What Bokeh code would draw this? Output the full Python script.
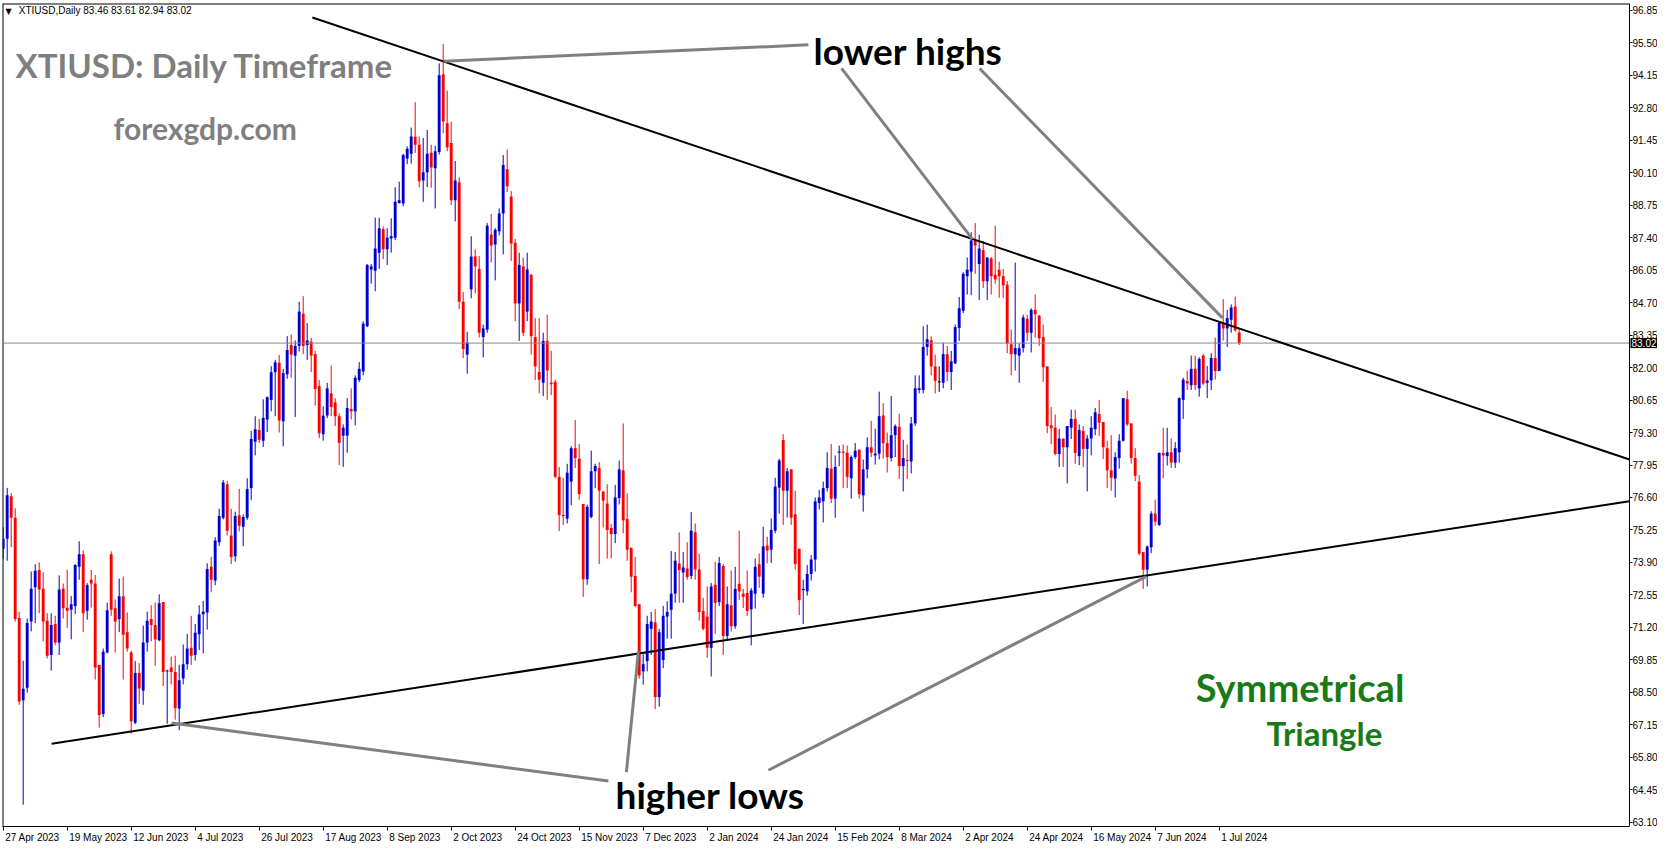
from bokeh.plotting import figure
from bokeh.models import ColumnDataSource, FixedTicker, Range1d, Label, NumeralTickFormatter
from bokeh.embed import file_html
from bokeh.resources import INLINE

# ---------------- data ----------------
opens = [
    74.47, 74.88, 76.65, 75.76, 71.59, 68.17, 68.69, 71.44, 72.87, 73.59,
    72.81, 71.47, 70.05, 71.34, 70.57, 72.81, 72.02, 71.93, 72.09, 73.72,
    74.24, 71.89, 73.18, 73.02, 69.64, 67.6, 70.16, 74.24, 71.99, 71.55,
    72.49, 71.0, 70.16, 67.23, 69.3, 68.58, 70.57, 71.55, 71.3, 70.66,
    72.25, 69.37, 69.53, 69.34, 67.83, 69.07, 69.67, 70.35, 70.05, 70.91,
    71.75, 71.82, 73.72, 73.15, 74.74, 75.76, 77.15, 75.02, 74.16, 75.86,
    75.38, 75.76, 76.99, 78.92, 79.41, 78.96, 79.84, 80.66, 81.81, 82.2,
    79.77, 81.72, 82.94, 82.5, 82.9, 84.24, 82.94, 83.08, 82.56, 81.23,
    79.23, 80.01, 80.93, 80.55, 79.98, 79.17, 79.17, 80.28, 80.18, 81.48,
    81.84, 83.72, 86.08, 86.03, 86.78, 87.76, 86.92, 87.37, 87.4, 88.85,
    88.82, 90.7, 90.89, 91.6, 91.27, 89.78, 90.12, 90.93, 90.29, 90.97,
    94.2, 92.16, 91.34, 88.96, 89.71, 84.74, 82.54, 85.26, 86.62, 86.1,
    83.27, 83.58, 87.53, 87.12, 87.67, 88.41, 90.25, 89.12, 87.19, 84.67,
    86.21, 84.33, 85.86, 83.27, 81.82, 81.37, 83.11, 81.37, 81.41, 77.46,
    75.87, 75.72, 77.26, 78.65, 78.21, 76.33, 73.2, 75.79, 77.69, 77.83,
    76.85, 76.35, 75.33, 75.08, 76.58, 77.73, 75.7, 74.51, 73.34, 72.16,
    69.37, 69.8, 71.14, 71.41, 68.3, 69.84, 71.65, 71.93, 72.6, 73.86,
    73.48, 73.65, 73.34, 75.15, 73.61, 71.88, 71.65, 70.35, 72.97, 72.25,
    73.75, 70.84, 72.12, 71.25, 73.01, 72.6, 72.63, 71.95, 72.6, 73.83,
    72.6, 74.6, 74.43, 75.22, 77.01, 78.99, 76.88, 77.77, 75.9, 74.47,
    72.75, 72.7, 73.42, 74.02, 76.37, 76.44, 76.99, 77.8, 76.55, 78.46,
    78.51, 78.46, 77.4, 78.28, 78.59, 76.69, 77.77, 78.69, 78.35, 78.42,
    80.01, 78.86, 78.24, 79.19, 79.54, 77.91, 78.16, 78.1, 79.68, 81.07,
    81.07, 82.86, 83.14, 82.05, 81.41, 81.37, 82.56, 81.82, 82.18, 83.65,
    84.36, 85.8, 85.99, 87.29, 86.31, 86.89, 85.59, 86.54, 85.86, 86.07,
    85.8, 85.45, 82.97, 82.56, 82.5, 82.81, 84.03, 83.45, 84.4, 84.16,
    83.27, 82.05, 79.6, 79.5, 78.41, 79.05, 78.69, 79.5, 79.87, 78.32,
    79.37, 78.62, 79.05, 79.44, 80.07, 79.74, 78.65, 77.73, 77.39, 78.24,
    78.96, 80.69, 79.68, 78.24, 77.26, 74.33, 73.6, 74.53, 75.93, 75.46,
    78.45, 78.32, 78.48, 78.05, 78.48, 80.66, 81.44, 81.27, 81.95, 81.14,
    82.5, 81.37, 81.47, 82.4, 81.86, 83.86, 83.63, 83.99, 84.54, 83.46,
]
highs = [
    75.36, 77.0, 76.78, 76.15, 71.85, 69.82, 71.57, 73.52, 73.82, 73.9,
    73.49, 71.79, 71.79, 71.68, 73.36, 73.02, 73.59, 72.5, 73.83, 74.78,
    74.4, 73.04, 73.59, 73.38, 69.64, 70.32, 72.23, 74.36, 72.36, 73.23,
    73.31, 71.82, 70.23, 69.8, 69.71, 71.27, 71.85, 72.12, 72.23, 72.57,
    72.25, 69.44, 69.98, 70.02, 69.64, 70.49, 70.93, 71.68, 71.34, 72.12,
    72.3, 73.86, 74.13, 74.95, 76.13, 77.33, 77.29, 76.13, 76.01, 76.96,
    75.9, 77.4, 79.37, 79.98, 79.87, 80.68, 80.8, 82.06, 82.32, 82.53,
    81.95, 83.31, 83.38, 83.13, 84.74, 84.97, 83.85, 83.24, 82.7, 81.48,
    80.39, 81.37, 82.09, 80.73, 80.1, 79.64, 80.73, 81.14, 81.68, 82.23,
    83.93, 86.31, 86.31, 88.24, 88.24, 87.87, 87.8, 88.21, 89.5, 89.73,
    90.89, 91.2, 91.98, 93.04, 91.61, 91.55, 91.88, 91.27, 91.23, 94.65,
    95.46, 93.52, 92.23, 90.59, 89.91, 85.15, 83.49, 87.46, 86.92, 86.64,
    83.79, 88.01, 88.39, 87.8, 88.62, 90.84, 91.07, 89.34, 87.35, 86.78,
    86.58, 86.78, 85.9, 84.06, 84.06, 83.45, 84.2, 82.7, 81.5, 77.87,
    77.42, 78.0, 78.73, 79.82, 78.82, 76.33, 76.3, 78.55, 78.0, 78.07,
    76.85, 77.15, 75.5, 77.12, 78.14, 79.68, 76.78, 74.51, 74.13, 72.16,
    70.08, 71.68, 71.84, 71.95, 71.14, 72.09, 72.29, 74.37, 74.33, 75.15,
    74.33, 74.74, 75.99, 75.52, 74.27, 72.43, 72.9, 73.04, 73.92, 74.13,
    73.83, 72.9, 73.56, 73.72, 75.22, 72.8, 73.56, 72.84, 74.06, 74.27,
    75.38, 74.97, 75.73, 77.42, 78.21, 79.23, 77.83, 77.77, 76.88, 74.47,
    73.18, 73.79, 74.2, 76.6, 76.92, 77.26, 78.48, 78.82, 78.35, 78.76,
    78.8, 78.76, 78.35, 78.86, 78.59, 78.18, 79.1, 79.78, 79.46, 81.0,
    80.52, 79.3, 80.82, 79.64, 80.09, 79.0, 78.8, 79.95, 81.68, 81.68,
    83.72, 83.79, 83.3, 82.54, 82.05, 83.04, 82.9, 82.7, 83.79, 84.94,
    85.97, 86.58, 87.63, 88.01, 87.53, 87.26, 86.58, 86.6, 87.9, 86.4,
    86.1, 85.6, 83.58, 86.37, 83.0, 84.2, 84.2, 84.47, 85.04, 84.2,
    83.79, 82.05, 80.36, 80.05, 79.46, 79.05, 79.57, 80.25, 80.25, 79.64,
    79.57, 79.2, 79.98, 80.32, 80.66, 79.74, 78.96, 79.19, 78.48, 79.23,
    80.73, 81.04, 79.68, 78.65, 77.53, 74.33, 74.6, 76.03, 76.51, 78.48,
    79.5, 79.5, 79.05, 78.9, 80.77, 81.58, 81.88, 82.5, 82.5, 82.43,
    82.57, 82.07, 82.6, 83.25, 83.92, 84.85, 84.4, 84.63, 84.95, 83.61,
]
lows = [
    74.06, 73.97, 74.54, 71.44, 67.98, 63.83, 68.49, 71.03, 71.38, 71.79,
    70.62, 69.91, 69.4, 70.46, 70.05, 71.57, 71.18, 70.7, 71.75, 73.18,
    71.0, 71.52, 72.02, 69.03, 67.03, 67.47, 70.12, 71.68, 70.15, 71.0,
    69.03, 70.19, 66.78, 67.17, 68.01, 67.98, 70.19, 70.62, 69.6, 70.62,
    68.76, 67.19, 68.83, 67.36, 66.92, 68.83, 69.44, 69.64, 69.82, 70.26,
    70.12, 71.11, 72.66, 72.95, 74.58, 75.69, 75.02, 73.83, 73.93, 75.19,
    74.57, 75.67, 76.49, 78.35, 78.87, 78.7, 79.32, 80.18, 79.98, 79.3,
    78.73, 81.54, 81.58, 79.95, 82.67, 82.56, 82.32, 81.82, 80.42, 79.07,
    78.96, 79.9, 79.98, 79.57, 77.94, 77.87, 78.46, 79.84, 79.6, 81.4,
    81.68, 83.68, 85.49, 85.18, 86.1, 86.51, 86.27, 86.78, 87.3, 88.82,
    88.71, 90.46, 90.48, 90.93, 89.5, 88.89, 89.5, 89.48, 88.62, 90.86,
    91.75, 91.0, 88.76, 88.08, 84.44, 82.4, 81.75, 84.88, 85.08, 83.25,
    82.43, 83.45, 86.37, 85.63, 87.5, 86.71, 89.3, 86.44, 83.93, 83.11,
    83.31, 83.93, 82.54, 81.48, 80.93, 80.82, 80.66, 80.86, 77.4, 75.2,
    75.46, 75.52, 76.28, 77.83, 76.51, 72.47, 72.97, 75.73, 76.99, 73.83,
    75.35, 74.06, 74.06, 74.7, 76.31, 75.11, 73.97, 72.66, 72.05, 69.07,
    68.82, 69.37, 70.05, 67.8, 67.9, 69.5, 70.73, 70.73, 72.22, 72.22,
    72.22, 73.18, 73.2, 73.18, 71.48, 71.07, 69.94, 69.16, 70.93, 72.09,
    70.05, 70.66, 71.03, 71.14, 72.33, 72.0, 71.68, 70.45, 71.98, 72.84,
    72.43, 73.86, 73.88, 75.11, 75.93, 75.46, 75.76, 75.46, 73.61, 71.71,
    71.34, 72.52, 73.15, 73.52, 76.1, 75.56, 76.85, 76.37, 75.76, 77.9,
    76.99, 76.99, 76.55, 78.2, 76.55, 76.01, 77.39, 78.28, 77.97, 78.18,
    78.21, 77.64, 78.1, 78.28, 77.37, 76.85, 77.37, 77.6, 79.57, 80.93,
    80.93, 82.5, 81.68, 80.93, 80.99, 81.14, 81.43, 81.07, 82.15, 83.11,
    84.27, 85.04, 85.01, 85.9, 84.81, 85.31, 84.81, 85.04, 85.49, 84.9,
    84.9, 82.6, 81.68, 81.88, 81.37, 82.63, 83.1, 82.63, 83.25, 82.9,
    81.41, 79.27, 78.82, 78.35, 77.87, 77.87, 77.19, 79.03, 78.0, 77.94,
    77.87, 76.85, 78.35, 79.19, 79.16, 78.2, 77.0, 76.88, 76.6, 77.8,
    78.92, 79.57, 78.01, 77.28, 74.2, 72.8, 72.9, 74.29, 75.42, 75.42,
    77.4, 77.93, 77.83, 77.83, 78.05, 79.87, 81.07, 81.07, 81.07, 80.79,
    81.27, 80.73, 81.07, 81.5, 81.86, 83.13, 82.86, 83.45, 83.49, 82.94,
]
closes = [
    74.88, 76.69, 75.76, 71.55, 68.12, 68.65, 71.38, 72.81, 73.55, 72.77,
    71.44, 70.02, 71.3, 70.57, 72.77, 71.99, 71.89, 72.16, 73.79, 74.24,
    71.79, 72.95, 73.02, 69.53, 67.56, 70.19, 71.91, 71.93, 71.44, 72.49,
    70.89, 70.32, 67.3, 69.3, 68.66, 70.57, 71.48, 71.3, 70.7, 72.2,
    69.34, 69.4, 69.34, 67.84, 69.0, 69.67, 70.32, 70.02, 70.98, 71.75,
    71.85, 73.63, 73.18, 74.81, 75.83, 77.22, 75.22, 74.13, 75.83, 75.43,
    75.79, 76.95, 79.03, 79.44, 79.0, 79.91, 80.77, 81.81, 82.22, 79.8,
    81.77, 82.73, 82.54, 82.9, 84.33, 82.9, 83.13, 82.5, 81.11, 79.27,
    80.0, 81.14, 80.36, 79.98, 78.87, 79.5, 80.32, 80.18, 81.58, 81.95,
    83.83, 86.27, 86.21, 86.95, 87.8, 86.92, 87.4, 87.46, 88.9, 88.96,
    90.84, 91.1, 91.61, 91.27, 89.75, 90.12, 90.89, 90.32, 91.0, 94.16,
    92.23, 91.16, 88.96, 89.78, 84.74, 82.77, 83.04, 86.62, 86.21, 83.45,
    83.63, 87.9, 87.08, 87.73, 88.41, 90.43, 89.54, 87.16, 84.67, 86.27,
    83.45, 86.08, 83.31, 82.05, 81.5, 83.11, 81.88, 81.31, 77.46, 75.87,
    75.83, 77.63, 78.65, 78.24, 76.74, 73.2, 76.21, 77.69, 77.91, 76.88,
    76.47, 75.25, 75.08, 76.6, 77.77, 75.65, 74.43, 73.31, 72.09, 69.2,
    69.67, 71.34, 71.44, 68.3, 71.0, 71.68, 71.84, 72.6, 73.97, 73.58,
    73.69, 73.29, 75.22, 73.61, 71.84, 71.14, 70.35, 72.9, 72.22, 73.88,
    70.84, 72.16, 71.25, 72.8, 72.7, 72.47, 71.88, 72.74, 73.72, 73.31,
    74.57, 74.4, 75.25, 77.05, 78.14, 76.88, 77.69, 75.76, 73.83, 72.33,
    72.8, 73.42, 74.02, 76.44, 76.6, 76.99, 77.83, 76.55, 77.87, 78.51,
    78.46, 77.46, 78.28, 78.55, 76.74, 77.77, 78.69, 78.46, 78.42, 79.98,
    78.86, 78.28, 79.19, 79.57, 77.91, 78.24, 78.12, 79.68, 81.14, 81.14,
    82.86, 83.18, 82.05, 81.45, 81.41, 82.56, 81.82, 82.26, 83.68, 84.47,
    85.9, 86.07, 87.29, 87.08, 86.95, 85.59, 86.58, 85.8, 85.67, 85.8,
    85.42, 83.0, 82.56, 82.81, 82.8, 84.09, 83.45, 84.4, 84.22, 83.22,
    82.02, 79.57, 79.48, 78.41, 79.05, 78.69, 79.57, 79.87, 78.45, 79.41,
    78.62, 79.05, 79.5, 80.14, 79.71, 78.69, 77.73, 77.42, 78.28, 78.96,
    80.73, 79.64, 78.24, 77.5, 74.27, 73.6, 74.56, 75.93, 75.6, 78.45,
    78.35, 78.48, 78.05, 78.65, 80.73, 81.5, 81.34, 81.95, 81.27, 82.36,
    81.34, 81.47, 82.4, 81.86, 83.86, 83.63, 84.06, 84.5, 83.55, 83.02,
]

date_labels = ["27 Apr 2023", "19 May 2023", "12 Jun 2023", "4 Jul 2023", "26 Jul 2023",
               "17 Aug 2023", "8 Sep 2023", "2 Oct 2023", "24 Oct 2023", "15 Nov 2023",
               "7 Dec 2023", "2 Jan 2024", "24 Jan 2024", "15 Feb 2024", "8 Mar 2024",
               "2 Apr 2024", "24 Apr 2024", "16 May 2024", "7 Jun 2024", "1 Jul 2024"]
bars_per_label = 16

price_labels = ["96.85", "95.50", "94.15", "92.80", "91.45", "90.10", "88.75", "87.40",
                "86.05", "84.70", "83.35", "82.00", "80.65", "79.30", "77.95", "76.60",
                "75.25", "73.90", "72.55", "71.20", "69.85", "68.50", "67.15", "65.80",
                "64.45", "63.10"]

last_price = 83.02
header_text = "XTIUSD,Daily  83.46 83.61 82.94 83.02"

# trend lines (bar index, price)
upper_trend_x = [77.3, 407.6]
upper_trend_y = [96.56, 78.12]
lower_trend_x = [12.1, 407.6]
lower_trend_y = [66.36, 76.47]

# gray pointer lines (bar index / price)
pointer_x0 = [110.1, 209.6, 244.1, 42.1, 158.8, 285.6]
pointer_y0 = [94.74, 94.44, 94.44, 67.22, 70.20, 73.30]
pointer_x1 = [201.3, 242.3, 304.8, 151.3, 155.8, 191.3]
pointer_y1 = [95.42, 87.34, 84.07, 64.81, 65.18, 65.26]

# ---------------- layout ----------------
W, H = 1657, 845
BORDER_L, BORDER_T, BORDER_B = 2, 3, 16
PX_PER_BAR = 4.0
X0 = -0.175
X1 = X0 + (W - BORDER_L) / PX_PER_BAR
AXIS_X = X0 + (1629 - BORDER_L) / PX_PER_BAR      # price axis sits inside the canvas, MT4 style
Y0, Y1 = 62.92, 97.14

BULL, BEAR, DOJI = "#0000cd", "#ff0000", "#000000"
n = len(opens)
xs = list(range(n))
colors, tops, bottoms = [], [], []
for o, c in zip(opens, closes):
    colors.append(BULL if c > o else (BEAR if c < o else DOJI))
    t, b = max(o, c), min(o, c)
    if t - b < 0.045:
        m = (t + b) / 2
        t, b = m + 0.0225, m - 0.0225
    tops.append(t)
    bottoms.append(b)

src = ColumnDataSource(dict(x=xs, open=opens, high=highs, low=lows, close=closes,
                            top=tops, bottom=bottoms, color=colors))

p = figure(width=W, height=H, x_range=Range1d(X0, X1), y_range=Range1d(Y0, Y1),
           y_axis_location="right", output_backend="svg", toolbar_location=None,
           min_border_left=BORDER_L, min_border_top=BORDER_T,
           min_border_right=0, min_border_bottom=BORDER_B)
p.background_fill_color = "white"
p.border_fill_color = "white"
p.outline_line_color = None
p.xgrid.visible = False
p.ygrid.visible = False

# right price axis, fixed at the end of the chart area
yax = p.yaxis[0]
yax.fixed_location = AXIS_X
yax.ticker = FixedTicker(ticks=[float(s) for s in price_labels])
yax.formatter = NumeralTickFormatter(format="0.00")
yax.axis_line_color = "black"
yax.major_tick_line_color = "black"
yax.major_tick_out = 3
yax.major_tick_in = 0
yax.minor_tick_line_color = None
yax.major_label_text_font = "Liberation Sans"
yax.major_label_text_font_size = "10px"
yax.major_label_text_color = "black"
yax.major_label_standoff = 0

# bottom date axis: tick marks at the bars (minor ticks), labels starting right of them
CHAR_EM = {" ": 0.278, "A": 0.667, "p": 0.556, "r": 0.333, "M": 0.833, "a": 0.556,
           "y": 0.5, "J": 0.5, "u": 0.556, "n": 0.556, "l": 0.222, "g": 0.556,
           "S": 0.667, "e": 0.556, "O": 0.778, "c": 0.5, "t": 0.278, "N": 0.722,
           "o": 0.556, "v": 0.5, "D": 0.722, "F": 0.611, "b": 0.556}
def text_width(s, size):
    return sum(CHAR_EM.get(ch, 0.556) for ch in s) * size
tick_pos = [k * bars_per_label for k in range(len(date_labels))]
label_pos, label_over = [], {}
for t, lab in zip(tick_pos, date_labels):
    c = round(t + (2 + text_width(lab, 10) / 2) / PX_PER_BAR, 3)
    label_pos.append(c)
    label_over[c] = lab
xax = p.xaxis[0]
xax.ticker = FixedTicker(ticks=label_pos, minor_ticks=tick_pos)
xax.major_label_overrides = label_over
xax.bounds = (X0, AXIS_X)
xax.axis_line_color = "black"
xax.major_tick_line_color = None
xax.minor_tick_line_color = "black"
xax.minor_tick_out = 4
xax.minor_tick_in = 0
xax.major_tick_out = 0
xax.major_tick_in = 0
xax.major_label_standoff = 1
xax.major_label_text_font = "Liberation Sans"
xax.major_label_text_font_size = "10px"
xax.major_label_text_color = "black"

# chart border (left and top)
p.line([X0, X0], [Y0, Y1], line_color="black", line_width=2)
p.line([X0, AXIS_X], [Y1, Y1], line_color="black", line_width=2)

# candles
p.segment(x0="x", y0="low", x1="x", y1="high", line_color="color", line_width=1, source=src)
p.vbar(x="x", width=0.72, top="top", bottom="bottom", fill_color="color", line_color=None, source=src)

# current price line up to the axis
p.line([X0, AXIS_X], [last_price, last_price], line_color="#84898f", line_width=1)

# trend lines, cut at the price axis
def cut_at_axis(xv, yv):
    f = (AXIS_X - xv[0]) / (xv[1] - xv[0])
    return [xv[0], AXIS_X], [yv[0], yv[0] + f * (yv[1] - yv[0])]
ux, uy = cut_at_axis(upper_trend_x, upper_trend_y)
lx, ly = cut_at_axis(lower_trend_x, lower_trend_y)
p.line(ux, uy, line_color="black", line_width=2)
p.line(lx, ly, line_color="black", line_width=2)

# gray pointers
p.segment(x0=pointer_x0, y0=pointer_y0, x1=pointer_x1, y1=pointer_y1,
          line_color="#808080", line_width=3)

# texts
def add_label(x, y, text, size, color, align="left", font="Lato", style="bold"):
    p.add_layout(Label(x=x, y=y, text=text, text_font=font, text_font_size=size,
                       text_font_style=style, text_color=color, text_align=align,
                       text_baseline="alphabetic"))

add_label(3.1, 94.58, "XTIUSD: Daily Timeframe", "33px", "#7f7f7f")
add_label(27.6, 91.97, "forexgdp.com", "30px", "#7f7f7f")
add_label(202.6, 95.17, "lower highs", "37px", "black")
add_label(153.1, 64.27, "higher lows", "37px", "black")
add_label(324.2, 68.70, "Symmetrical", "38px", "#187b18", align="center")
add_label(330.3, 66.81, "Triangle", "33px", "#187b18", align="center")
add_label(3.9, 96.83, header_text, "10px", "black", font="Liberation Sans", style="normal")
add_label(0.6, 96.81, "\u25bc", "8px", "black", font="DejaVu Sans", style="normal")

# last price box on the price axis
p.add_layout(Label(x=AXIS_X, y=last_price, text=f"{last_price:.2f}", x_offset=1,
                   text_font="Liberation Sans", text_font_size="10px", text_color="white",
                   text_baseline="middle", text_align="left",
                   background_fill_color="black", padding=1))

open("out.html", "w").write(file_html(p, INLINE))
